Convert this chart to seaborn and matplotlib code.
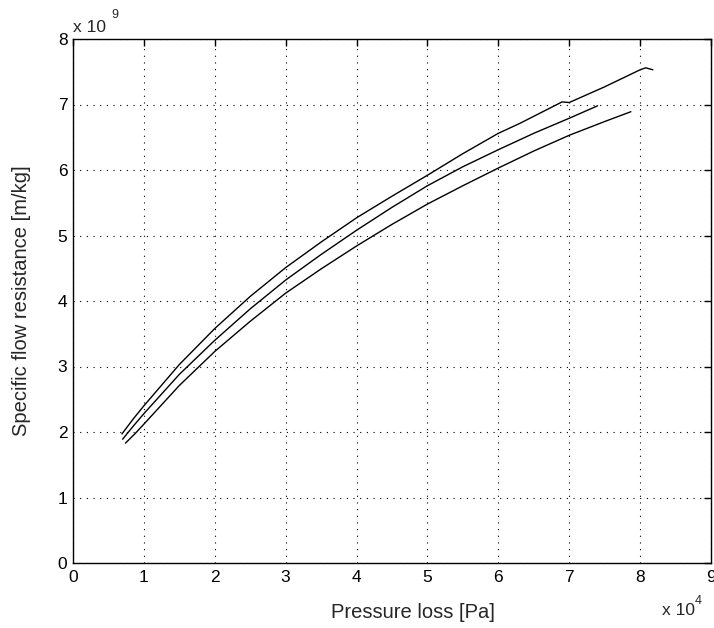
import matplotlib
matplotlib.use("Agg")
import matplotlib.pyplot as plt
import seaborn as sns
import pandas as pd

# Pressure loss [x 1e4 Pa] and specific flow resistance [x 1e9 m/kg] for three runs
p_upper = [0.69, 0.85, 1.0, 1.5, 2.0, 2.5, 3.0, 3.5, 4.0, 4.5, 5.0, 5.5, 6.0, 6.3, 6.5, 6.9, 7.0, 7.5, 8.0, 8.08, 8.18]
r_upper = [1.97, 2.20, 2.40, 3.03, 3.58, 4.07, 4.51, 4.90, 5.27, 5.60, 5.92, 6.25, 6.56, 6.71, 6.82, 7.04, 7.03, 7.27, 7.53, 7.56, 7.53]

p_middle = [0.70, 0.85, 1.0, 1.5, 2.0, 2.5, 3.0, 3.5, 4.0, 4.5, 5.0, 5.5, 6.0, 6.5, 7.0, 7.40]
r_middle = [1.89, 2.09, 2.28, 2.88, 3.40, 3.88, 4.32, 4.71, 5.08, 5.43, 5.76, 6.05, 6.31, 6.56, 6.79, 6.98]

p_lower = [0.74, 0.88, 1.0, 1.5, 2.0, 2.5, 3.0, 3.5, 4.0, 4.5, 5.0, 5.5, 6.0, 6.5, 7.0, 7.5, 7.87]
r_lower = [1.83, 1.98, 2.12, 2.71, 3.23, 3.69, 4.12, 4.49, 4.84, 5.17, 5.48, 5.76, 6.03, 6.29, 6.53, 6.74, 6.89]

x_ticks = [0, 1, 2, 3, 4, 5, 6, 7, 8, 9]
y_ticks = [0, 1, 2, 3, 4, 5, 6, 7, 8]

frames = []
for name, p, r in [("upper", p_upper, r_upper), ("middle", p_middle, r_middle), ("lower", p_lower, r_lower)]:
    frames.append(pd.DataFrame({"pressure": p, "resistance": r, "run": name}))
data = pd.concat(frames, ignore_index=True)

sns.set_style("white")
plt.rcParams["font.family"] = ["Liberation Sans", "DejaVu Sans"]

fig = plt.figure(figsize=(7.14, 6.28), dpi=100)
ax = fig.add_axes([73 / 714, 1 - 563 / 628, (711 - 73) / 714, (563 - 39) / 628])

sns.lineplot(data=data, x="pressure", y="resistance", hue="run", units="run",
             estimator=None, sort=False, palette=["black"] * 3, linewidth=1.0,
             legend=False, ax=ax)

ax.set_xlim(0, 9)
ax.set_ylim(0, 8)
ax.set_xticks(x_ticks)
ax.set_yticks(y_ticks)
ax.set_xticklabels([str(v) for v in x_ticks])
ax.set_yticklabels([str(v) for v in y_ticks])
ax.set_xlabel("")
ax.set_ylabel("")

ax.grid(True, color="black", linestyle=(0, (1, 5)), linewidth=0.8)
ax.tick_params(direction="in", length=5, width=1.0, top=True, right=True,
               labelsize=12.5, colors="black")
ax.tick_params(axis="x", pad=5)
ax.tick_params(axis="y", pad=4)
for s in ax.spines.values():
    s.set_visible(True)
    s.set_color("black")
    s.set_linewidth(1.0)

# exponent markers
fig.text(73 / 714, 1 - 32 / 628, "x 10", fontsize=12.5, ha="left", va="baseline")
fig.text(111 / 714, 1 - 18 / 628, "9", fontsize=9, ha="left", va="baseline")
fig.text(662 / 714, 1 - 615 / 628, "x 10", fontsize=12.5, ha="left", va="baseline")
fig.text(695 / 714, 1 - 604 / 628, "4", fontsize=9, ha="left", va="baseline")

fig.text(413 / 714, 1 - 613 / 628, "Pressure loss [Pa]", fontsize=14.5, ha="center", va="center")
fig.text(22 / 714, 1 - 301 / 628, "Specific flow resistance [m/kg]", fontsize=14.5,
         ha="center", va="center", rotation=90)

fig.savefig("out.png", dpi=100, facecolor="white")
